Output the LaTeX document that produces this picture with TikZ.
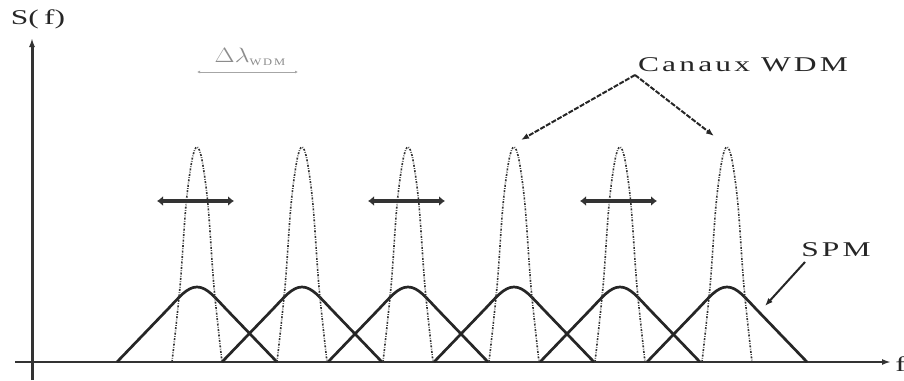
\documentclass[tikz,border=0pt]{standalone}
\usepackage{fontspec}
\setmainfont{Liberation Serif}
\usetikzlibrary{arrows.meta}
\begin{document}
\begin{tikzpicture}[x=1pt,y=-1pt,
  spm/.style={line width=2.7pt,black!85},
  wdm/.style={line width=1.6pt,black!80,dash pattern=on 2pt off 1.4pt on 0.7pt off 1.4pt},
  axis/.style={-{Latex[length=9pt,width=6pt]},black!80},
  bidir/.style={{Latex[length=6pt,width=10pt]}-{Latex[length=6pt,width=10pt]},line width=3.8pt,black!80},
  callout/.style={-{Latex[length=8pt,width=6pt]},line width=2pt,black!85,dash pattern=on 5pt off 1.5pt},
  lbl/.style={font=\fontsize{21}{22}\selectfont,inner sep=0pt,black!85,xscale=1.5}]
\useasboundingbox (0,0) rectangle (904,380);
% axes
\coordinate (yb) at (32,380);
\coordinate (yt) at (32,38);
\coordinate (xl) at (15,362);
\coordinate (xr) at (891,362);
\draw[axis,line width=3pt] (yb) -- (yt);
\draw[axis,line width=1.8pt] (xl) -- (xr);
\node[lbl,anchor=south] (sf) at (38,29) {S(\,f)};
\node[lbl,anchor=west] (f) at (895,364) {f};
% channels
\foreach \c [count=\i] in {197,302,408,514,620,727}{
  \coordinate (p\i) at (\c,147);
  \draw[spm] ({\c-80},362) -- ({\c-30},310) .. controls ({\c-18},297.5) and ({\c-10},287) .. ({\c},287)
     .. controls ({\c+10},287) and ({\c+18},297.5) .. ({\c+30},310) -- ({\c+80},362);
  \draw[wdm] plot[smooth,tension=0.55] coordinates {({\c-25},362) ({\c-17},287) ({\c-11},205) ({\c-5},160) ({\c},147) ({\c+5},160) ({\c+11},205) ({\c+17},287) ({\c+25},362)};
}
% double arrows
\foreach \c [count=\i] in {197,408,620}{
  \coordinate (dl\i) at ({\c-40},201);
  \coordinate (dr\i) at ({\c+37},201);
  \draw[bidir] (dl\i) -- (dr\i);
}
% delta lambda
\coordinate (dla) at (197,72);
\coordinate (dlb) at (298,72);
\draw[{Latex[length=3pt,width=3pt]}-{Latex[length=3pt,width=3pt]},black!35,line width=0.8pt] (dla) -- (dlb);
\node[inner sep=0pt,black!45,font=\fontsize{21}{22}\selectfont,xscale=1.25] (dl) at (250,57) {$\Delta\lambda$\raisebox{-3pt}{\fontsize{10}{10}\selectfont\addfontfeature{LetterSpace=15}WDM}};
% Canaux WDM
\node[lbl,anchor=south,font=\fontsize{21}{22}\selectfont\addfontfeature{LetterSpace=10}] (cw) at (743,72) {Canaux WDM};
\coordinate (apex) at (635,75);
\coordinate (t4) at (521,140);
\coordinate (t6) at (714,136);
\draw[callout] (apex) -- (t4);
\draw[callout] (apex) -- (t6);
% SPM
\node[lbl,font=\fontsize{21}{22}\selectfont\addfontfeature{LetterSpace=10}] (spm) at (836,250) {SPM};
\coordinate (sa) at (805,262);
\coordinate (sb) at (765,306);
\draw[callout,dash pattern=] (sa) -- (sb);
\end{tikzpicture}
\end{document}
